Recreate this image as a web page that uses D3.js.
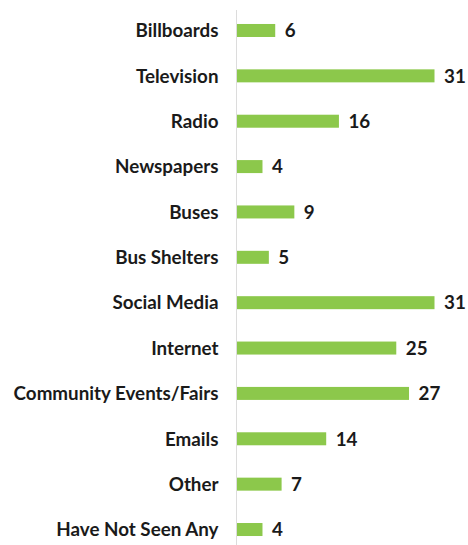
<!DOCTYPE html>
<html><head><meta charset="utf-8">
<script src="https://cdn.jsdelivr.net/npm/d3@7"></script>
<style>body{margin:0;background:#fff}svg{display:block}</style>
</head><body>
<script>
const categories = ["Billboards","Television","Radio","Newspapers","Buses","Bus Shelters","Social Media","Internet","Community Events/Fairs","Emails","Other","Have Not Seen Any"];
const values = [6,31,16,4,9,5,31,25,27,14,7,4];

const W = 468, H = 545;
const axisX = 236.5;
const svg = d3.select("body").append("svg").attr("width", W).attr("height", H);

const x = d3.scaleLinear().domain([0, 31]).range([axisX, 434]);
const y = d3.scalePoint().domain(categories).range([7.8, 552.2]).padding(0.5);
const barH = 13;

svg.append("line").attr("x1", axisX).attr("x2", axisX).attr("y1", 10).attr("y2", H)
  .attr("stroke", "#dcdcdc").attr("stroke-width", 1);

svg.selectAll("rect.bar").data(categories).join("rect").attr("class","bar")
  .attr("x", x(0) + 0.5).attr("y", d => y(d) - barH/2)
  .attr("width", (d,i) => x(values[i]) - x(0)).attr("height", barH)
  .attr("fill", "#8cc84b");

const font = "Lato, 'Open Sans', sans-serif";
const fs = 18.8;
svg.selectAll("text.cat").data(categories).join("text").attr("class","cat")
  .attr("x", 218.5).attr("y", d => y(d)).attr("dy", "0.36em")
  .attr("text-anchor", "end").attr("font-family", font).attr("font-weight", "bold")
  .attr("font-size", fs).attr("fill", "#1a1a1a").text(d => d);

svg.selectAll("text.val").data(categories).join("text").attr("class","val")
  .attr("x", (d,i) => x(values[i]) + 10).attr("y", d => y(d)).attr("dy", "0.36em")
  .attr("font-family", font).attr("font-weight", "bold")
  .attr("font-size", fs).attr("fill", "#1a1a1a").text((d,i) => values[i]);
</script>
</body></html>
